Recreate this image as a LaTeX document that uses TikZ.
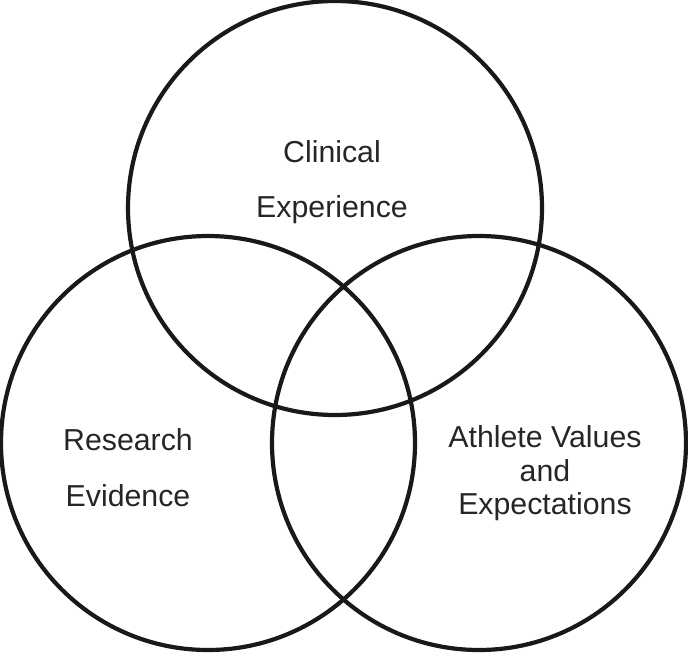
\documentclass[tikz,border=0pt]{standalone}
\usepackage{fontspec}
\setmainfont{Liberation Sans}
\begin{document}
\begin{tikzpicture}[x=1pt,y=-1pt,
  ring/.style={draw=black!90, line width=4.2pt, circle, minimum size=414pt, inner sep=0pt},
  lbl/.style={anchor=base, inner sep=0pt, text=black!85, font=\fontsize{30.3}{36}\selectfont}]
\useasboundingbox (0,0) rectangle (688,656);
\node[ring] (clin) at (335,208) {};
\node[ring] (res) at (208,443) {};
\node[ring] (ath) at (479,443) {};
\node[lbl] (c1) at (332,162) {Clinical};
\node[lbl] (c2) at (332,217) {Experience};
\node[lbl] (r1) at (128,450) {Research};
\node[lbl] (r2) at (128,506) {Evidence};
\node[lbl] (a1) at (545,447) {Athlete Values};
\node[lbl] (a2) at (545,481) {and};
\node[lbl] (a3) at (545,514) {Expectations};
\end{tikzpicture}
\end{document}
